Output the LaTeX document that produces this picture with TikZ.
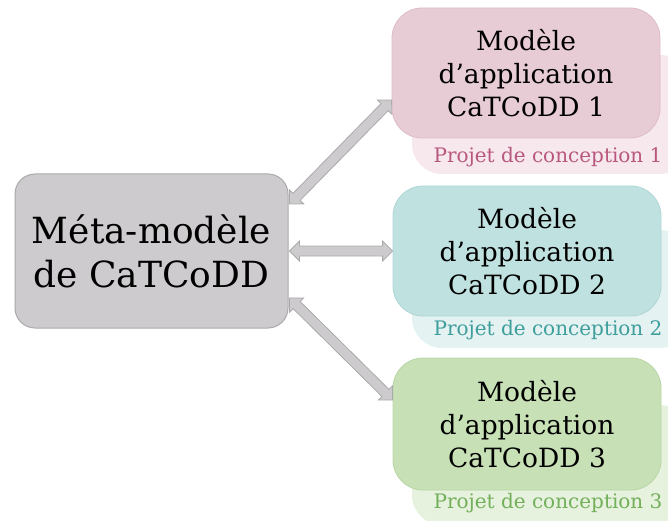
\documentclass[tikz,border=0pt]{standalone}
\usepackage{fontspec}
\setmainfont{DejaVu Serif}
\usetikzlibrary{calc}
\definecolor{mainfill}{HTML}{CDCBCD}
\definecolor{mainline}{HTML}{ABAAAB}
\definecolor{pinkf}{HTML}{E8CCD5}
\definecolor{pinkl}{HTML}{DDBCC7}
\definecolor{pinkb}{HTML}{F6E8EC}
\definecolor{pinkt}{HTML}{B9587E}
\definecolor{tealf}{HTML}{BFE1E0}
\definecolor{teall}{HTML}{B0D6D5}
\definecolor{tealb}{HTML}{E4F2F2}
\definecolor{tealt}{HTML}{3E9E9C}
\definecolor{greenf}{HTML}{C7E0B5}
\definecolor{greenl}{HTML}{B8D6A4}
\definecolor{greenb}{HTML}{E6F1DE}
\definecolor{greent}{HTML}{72B05A}
\tikzset{
  mainbox/.style={rectangle, rounded corners=20pt, draw=mainline, fill=mainfill, line width=1pt,
    minimum width=273pt, minimum height=154pt, align=center, inner sep=0pt,
    font=\fontsize{36}{44}\selectfont},
  appbox/.style={rectangle, rounded corners=30pt, line width=0.8pt,
    minimum width=268pt, minimum height=130pt, align=center, inner sep=0pt,
    font=\fontsize{26.5}{33}\selectfont},
  backbox/.style={rectangle, rounded corners=30pt, minimum width=278pt, minimum height=119pt, inner sep=0pt},
  projlabel/.style={font=\fontsize{20}{24}\selectfont, inner sep=0pt},
  blockarrow/.style={draw=mainline, fill=mainfill, line width=0.8pt, line join=miter}
}
% double block arrow between two named coordinates
\newcommand{\linkarrow}[2]{%
  \path[blockarrow] (#1)
    -- ($(#1)!10pt!(#2)!10pt!90:(#2)$)
    -- ($(#1)!10pt!(#2)!5pt!90:(#2)$)
    -- ($(#2)!10pt!(#1)!5pt!-90:(#1)$)
    -- ($(#2)!10pt!(#1)!10pt!-90:(#1)$)
    -- (#2)
    -- ($(#2)!10pt!(#1)!10pt!90:(#1)$)
    -- ($(#2)!10pt!(#1)!5pt!90:(#1)$)
    -- ($(#1)!10pt!(#2)!5pt!-90:(#2)$)
    -- ($(#1)!10pt!(#2)!10pt!-90:(#2)$)
    -- cycle;}
\begin{document}
\begin{tikzpicture}[x=1pt,y=-1pt]
\useasboundingbox (0,0) rectangle (668,521);
\clip (0,0) rectangle (668,521);
% back boxes
\node[backbox, fill=pinkb, minimum height=119pt] (k1) at (551,114.5) {};
\node[backbox, fill=tealb, minimum height=118pt] (k2) at (551,289) {};
\node[backbox, fill=greenb, minimum height=120pt] (k3) at (551,465) {};
% labels
\node[projlabel, text=pinkt] (l1) at (548,157) {Projet de conception 1};
\node[projlabel, text=tealt] (l2) at (548,330) {Projet de conception 2};
\node[projlabel, text=greent] (l3) at (548,503) {Projet de conception 3};
% front boxes
\node[appbox, fill=pinkf, draw=pinkl] (b1) at (526,73) {Modèle\\d’application\\CaTCoDD 1};
\node[appbox, fill=tealf, draw=teall] (b2) at (527,251) {Modèle\\d’application\\CaTCoDD 2};
\node[appbox, fill=greenf, draw=greenl, minimum height=132pt] (b3) at (527,424) {Modèle\\d’application\\CaTCoDD 3};
\node[mainbox] (m) at (151.5,251) {Méta-modèle\\de CaTCoDD};
% arrow endpoints
\coordinate (a1s) at ($(m.east)+(1,-47)$);
\coordinate (a1e) at ($(b1.west)+(0,27)$);
\coordinate (a2s) at ($(m.east)+(1,0)$);
\coordinate (a2e) at (b2.west);
\coordinate (a3s) at ($(m.east)+(1,47)$);
\coordinate (a3e) at ($(b3.west)+(0,-24)$);
\linkarrow{a1s}{a1e}
\linkarrow{a2s}{a2e}
\linkarrow{a3s}{a3e}
\end{tikzpicture}
\end{document}
